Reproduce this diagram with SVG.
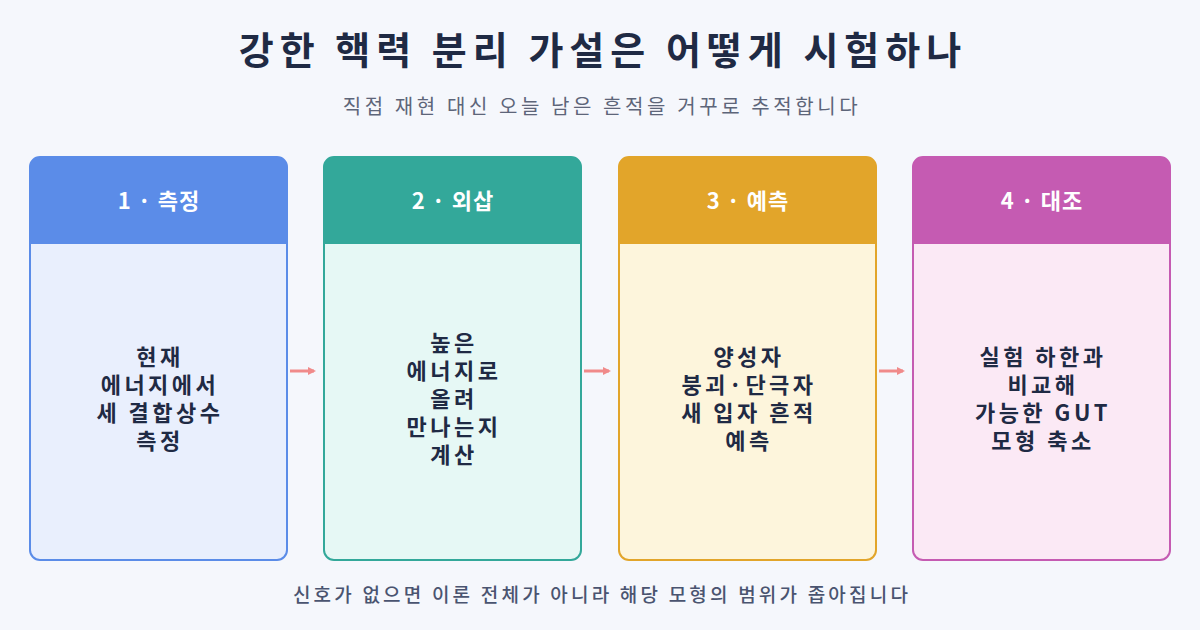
<svg xmlns="http://www.w3.org/2000/svg" width="1200" height="630" viewBox="0 0 1200 630">
<style>
text{font-family:"Noto Sans CJK KR","Noto Sans",sans-serif;text-anchor:middle}
.t{font-size:38px;font-weight:700;fill:#1f2a44;letter-spacing:6px}
.s{font-size:20px;fill:#5d6579;letter-spacing:3.6px}
.f{font-size:19px;font-weight:500;fill:#4a5470;letter-spacing:3.2px}
.h{font-size:22px;font-weight:700;fill:#fff;letter-spacing:1px}
.b{font-size:22px;font-weight:700;fill:#1f2a44;letter-spacing:3.5px}
.ar{stroke:#f08a8a;stroke-width:3;fill:none}
</style>
<defs><marker id="m" markerWidth="8" markerHeight="8" refX="6" refY="4" orient="auto" markerUnits="userSpaceOnUse"><path d="M0,0L8,4L0,8z" fill="#f08a8a"/></marker></defs>
<rect width="1200" height="630" fill="#f5f7fc"/>
<text class="t" x="603" y="64">강한 핵력 분리 가설은 어떻게 시험하나</text>
<text class="s" x="602" y="114">직접 재현 대신 오늘 남은 흔적을 거꾸로 추적합니다</text>
<g id="n1">
<rect x="30" y="157" width="257" height="403" rx="10" fill="#e9effd" stroke="#5b8ce8" stroke-width="2"/>
<path d="M30,244V167a10,10 0 0 1 10-10h237a10,10 0 0 1 10,10v77z" fill="#5b8ce8"/>
<text class="h" x="159" y="209">1 · 측정</text>
<text class="b" x="160" y="365">현재</text><text class="b" x="160" y="393">에너지에서</text><text class="b" x="160" y="421">세 결합상수</text><text class="b" x="160" y="449">측정</text>
</g>
<g id="n2">
<rect x="324" y="157" width="257" height="403" rx="10" fill="#e6f8f5" stroke="#33a89a" stroke-width="2"/>
<path d="M324,244V167a10,10 0 0 1 10-10h237a10,10 0 0 1 10,10v77z" fill="#33a89a"/>
<text class="h" x="453" y="209">2 · 외삽</text>
<text class="b" x="454" y="351">높은</text><text class="b" x="454" y="379">에너지로</text><text class="b" x="454" y="407">올려</text><text class="b" x="454" y="435">만나는지</text><text class="b" x="454" y="463">계산</text>
</g>
<g id="n3">
<rect x="619" y="157" width="257" height="403" rx="10" fill="#fdf5dc" stroke="#e2a52a" stroke-width="2"/>
<path d="M619,244V167a10,10 0 0 1 10-10h237a10,10 0 0 1 10,10v77z" fill="#e2a52a"/>
<text class="h" x="748" y="209">3 · 예측</text>
<text class="b" x="749" y="365">양성자</text><text class="b" x="749" y="393">붕괴·단극자</text><text class="b" x="749" y="421">새 입자 흔적</text><text class="b" x="749" y="449">예측</text>
</g>
<g id="n4">
<rect x="913" y="157" width="257" height="403" rx="10" fill="#fbe9f5" stroke="#c55bb2" stroke-width="2"/>
<path d="M913,244V167a10,10 0 0 1 10-10h237a10,10 0 0 1 10,10v77z" fill="#c55bb2"/>
<text class="h" x="1042" y="209">4 · 대조</text>
<text class="b" x="1043" y="365">실험 하한과</text><text class="b" x="1043" y="393">비교해</text><text class="b" x="1043" y="421">가능한 GUT</text><text class="b" x="1043" y="449">모형 축소</text>
</g>
<g id="connectors">
<line class="ar" x1="290" y1="371" x2="314" y2="371" marker-end="url(#m)"/>
<line class="ar" x1="584" y1="371" x2="609" y2="371" marker-end="url(#m)"/>
<line class="ar" x1="879" y1="371" x2="903" y2="371" marker-end="url(#m)"/>
</g>
<text class="f" x="602" y="602">신호가 없으면 이론 전체가 아니라 해당 모형의 범위가 좁아집니다</text>
</svg>
